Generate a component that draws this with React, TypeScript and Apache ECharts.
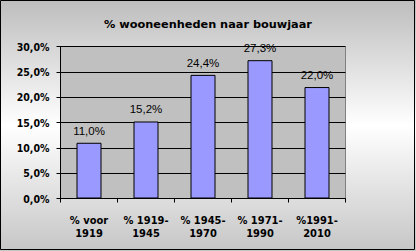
import React, { useEffect, useRef } from "react";
import * as echarts from "echarts";

const title = "% wooneenheden naar bouwjaar";
const categories = ["% voor\n1919", "% 1919-\n1945", "% 1945-\n1970", "% 1971-\n1990", "%1991-\n2010"];
const values = [11.0, 15.2, 24.4, 27.3, 22.0];
const yMin = 0;
const yMax = 30;
const yStep = 5;

const fmt = (v: number) => v.toFixed(1).replace(".", ",") + "%";

export default function App() {
  const ref = useRef<HTMLDivElement>(null);
  useEffect(() => {
    document.body.style.margin = "0";
    const chart = echarts.init(ref.current!, null, { renderer: "svg" });
    chart.setOption({
      animation: false,
      backgroundColor: "transparent",
      title: {
        text: title,
        left: "center",
        top: 14,
        textStyle: {
          fontFamily: "DejaVu Sans",
          fontWeight: "bold",
          fontSize: 11.3,
          color: "#000",
        },
      },
      grid: {
        left: 60.5,
        right: 70.5,
        top: 46.5,
        bottom: 52.5,
        show: true,
        backgroundColor: "#c0c0c0",
        borderColor: "#808080",
        borderWidth: 1,
      },
      xAxis: {
        type: "category",
        data: categories,
        axisLine: { lineStyle: { color: "#000", width: 1 } },
        axisTick: { show: true, length: 4, lineStyle: { color: "#000" } },
        axisLabel: {
          margin: 15,
          lineHeight: 13,
          fontFamily: "DejaVu Sans Condensed",
          fontWeight: "bold",
          fontSize: 11,
          color: "#000",
          interval: 0,
        },
      },
      yAxis: {
        type: "value",
        min: yMin,
        max: yMax,
        interval: yStep,
        axisLine: { show: true, lineStyle: { color: "#000", width: 1 } },
        axisTick: { show: true, length: 4, lineStyle: { color: "#000" } },
        splitLine: { show: true, lineStyle: { color: "#000", width: 1 } },
        axisLabel: {
          margin: 11,
          formatter: fmt,
          fontFamily: "DejaVu Sans Condensed",
          fontWeight: "bold",
          fontSize: 10.5,
          color: "#000",
        },
      },
      series: [
        {
          type: "bar",
          data: values,
          barWidth: 25,
          itemStyle: { color: "#9999ff", borderColor: "#000", borderWidth: 1 },
          label: {
            show: true,
            position: "top",
            distance: 6,
            formatter: (p: any) => fmt(p.value),
            fontFamily: "Liberation Sans",
            fontSize: 11.5,
            color: "#000",
          },
        },
      ],
      graphic: [
        {
          type: "rect",
          shape: { x: 0.5, y: 0.5, width: 414, height: 249 },
          style: { fill: "none", stroke: "#000", lineWidth: 1 },
          silent: true,
        },
      ],
    });
    return () => chart.dispose();
  }, []);
  return (
    <div
      ref={ref}
      style={{
        width: 416,
        height: 251,
        background: "linear-gradient(to bottom, #bdbdbd 0%, #ffffff 50%, #c6c6c6 100%)",
      }}
    />
  );
}
